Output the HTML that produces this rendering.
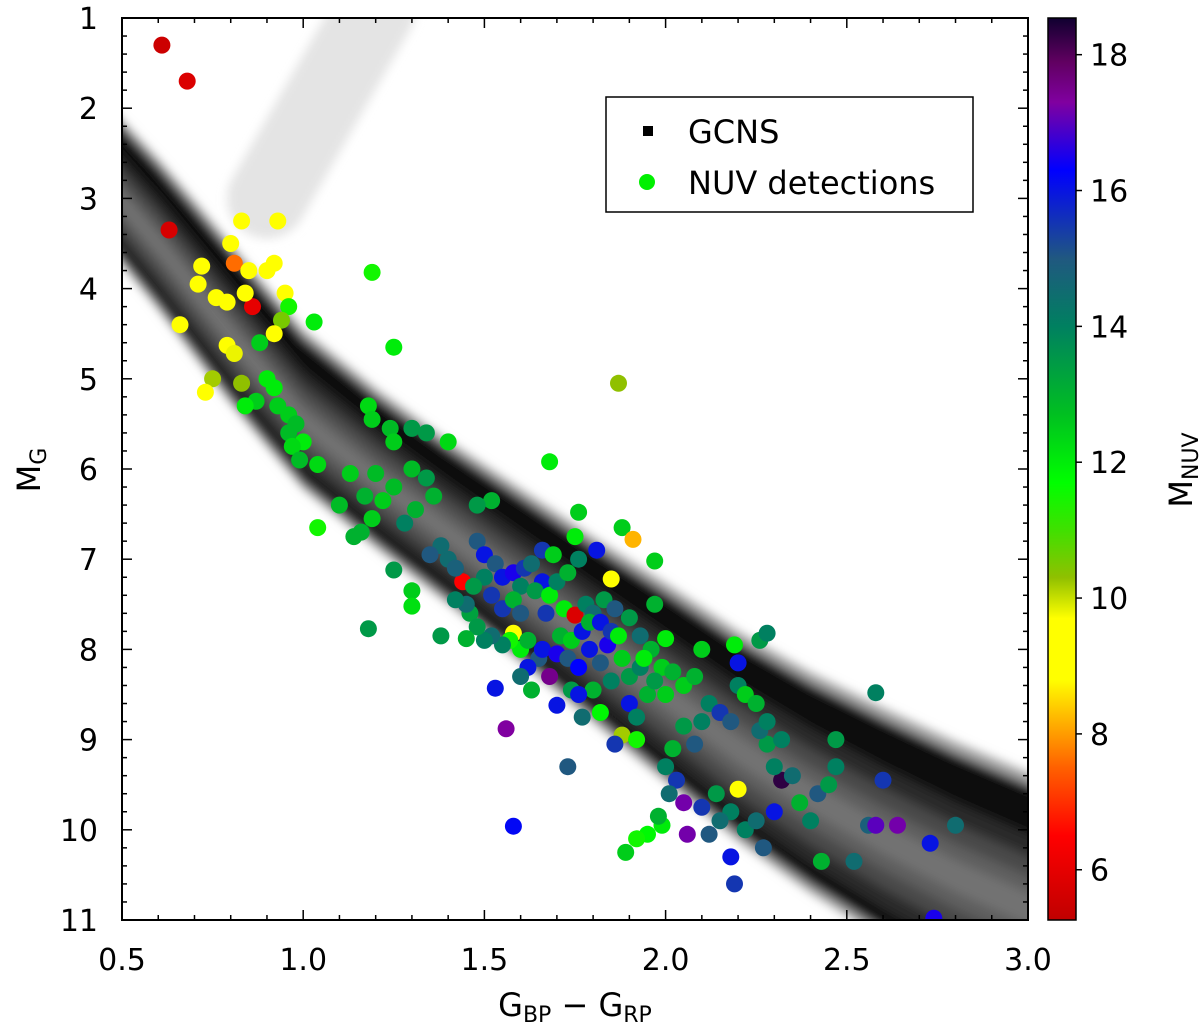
<!DOCTYPE html>
<html><head><meta charset="utf-8"><style>
html,body{margin:0;padding:0;background:#fff;}
svg{display:block;font-family:"DejaVu Sans","Liberation Sans",sans-serif;}
</style></head><body>
<svg id="chart" width="1200" height="1028" viewBox="0 0 1200 1028">
<defs>
<clipPath id="plotclip"><rect x="122" y="18" width="906" height="902"/></clipPath>
<linearGradient id="cbgrad" x1="0" y1="1" x2="0" y2="0" gradientUnits="objectBoundingBox"></linearGradient>
<filter id="blur" x="-10%" y="-10%" width="120%" height="120%"><feGaussianBlur stdDeviation="5"/></filter>
</defs>
<g clip-path="url(#plotclip)"><g id="bg" filter="url(#blur)"></g></g>
<g id="pts" clip-path="url(#plotclip)"></g>
<rect x="122" y="18" width="906" height="902" fill="none" stroke="#000" stroke-width="2"/>
<g id="axes"></g>
<g>
<rect x="606" y="97" width="367" height="115" fill="#fff" stroke="#000" stroke-width="1.5"/>
<rect x="643" y="126" width="10" height="10" fill="#000"/>
<text x="688" y="143" font-size="32">GCNS</text>
<circle cx="647" cy="182" r="8" fill="#00f000"/>
<text x="688" y="194" font-size="32">NUV detections</text>
</g>
<rect id="cbar" x="1048" y="18" width="28" height="902" stroke="#000" stroke-width="1.5" fill="url(#cbgrad)"/>
<g id="cbticks"></g>
<text x="575" y="1016" font-size="32" text-anchor="middle">G<tspan font-size="22" dy="6">BP</tspan><tspan dy="-6"> − G</tspan><tspan font-size="22" dy="6">RP</tspan></text>
<text transform="translate(40,470) rotate(-90)" font-size="32" text-anchor="middle">M<tspan font-size="22" dy="6">G</tspan></text>
<text transform="translate(1192,470) rotate(-90)" font-size="32" text-anchor="middle">M<tspan font-size="22" dy="6">NUV</tspan></text>
</svg>
<script>
const xTicks=[0.5,1.0,1.5,2.0,2.5,3.0];
const xTickLabels=["0.5","1.0","1.5","2.0","2.5","3.0"];
const yTicks=[1,2,3,4,5,6,7,8,9,10,11];
const cbTicks=[6,8,10,12,14,16,18];
const seqColor=[0.45,0.6,0.7,0.8,0.9,1.0,1.2,1.4,1.6,1.8,2.0,2.2,2.4,2.6,2.8,3.05];
const seqMag=[2.8,3.5,4.0,4.5,4.98,5.45,6.1,6.7,7.3,7.9,8.5,9.1,9.62,10.08,10.5,10.95];
const seqHalfUp=[0.8,0.85,0.88,0.9,0.9,0.9,0.9,0.92,0.98,1.04,1.12,1.18,1.24,1.3,1.34,1.36];
const seqHalfLo=[0.62,0.66,0.68,0.7,0.7,0.7,0.7,0.72,0.76,0.82,0.88,0.93,0.98,1.02,1.05,1.08];
const giantColor=[0.9,1.0,1.1,1.2];
const giantMag=[3.0,2.3,1.6,0.9];
const nuvColor=[0.61,0.68,0.63,0.83,0.93,0.80,0.72,0.81,0.85,0.90,0.92,0.71,0.76,0.79,0.86,0.84,0.95,0.96,0.66,0.94,0.92,1.03,1.19,1.25,0.79,0.81,0.88,0.75,0.73,0.83,0.90,0.92,0.87,0.84,0.93,0.96,0.98,0.96,1.0,0.97,0.99,1.04,1.04,1.18,1.19,1.24,1.30,1.34,1.40,1.25,1.20,1.13,1.10,1.17,1.22,1.19,1.14,1.16,1.25,1.30,1.34,1.36,1.31,1.28,1.87,1.68,1.52,1.48,1.76,1.75,1.88,1.91,1.81,1.85,1.97,1.25,1.30,1.30,1.18,1.38,1.44,1.46,1.50,1.45,1.40,1.42,1.38,1.35,1.48,1.50,1.53,1.55,1.58,1.61,1.63,1.60,1.66,1.52,1.55,1.58,1.60,1.64,1.68,1.70,1.73,1.76,1.66,1.69,1.67,1.72,1.75,1.78,1.80,1.83,1.86,1.90,1.93,1.96,2.00,1.97,1.99,2.02,2.05,2.08,2.10,2.12,2.15,2.18,2.20,2.22,2.25,2.19,2.20,2.26,2.28,2.10,2.05,2.08,2.02,2.00,2.03,2.01,2.05,2.10,2.14,2.18,2.20,2.15,2.22,2.25,2.30,2.27,2.18,2.19,2.12,2.06,1.99,1.95,1.92,1.89,1.98,2.32,2.30,2.28,2.26,2.32,2.35,2.37,2.40,2.42,2.45,2.47,2.47,2.43,2.52,2.58,2.60,2.56,2.58,2.64,2.73,2.74,2.80,2.28,1.58,1.56,1.53,1.73,1.77,1.82,1.80,1.85,1.90,1.92,1.95,1.88,1.92,1.86,1.70,1.68,1.65,1.62,1.66,1.70,1.73,1.76,1.79,1.82,1.84,1.88,1.90,1.93,1.60,1.58,1.57,1.55,1.62,1.60,1.71,1.74,1.77,1.79,1.82,1.85,1.87,1.63,1.74,1.76,1.94,1.97,2.0,1.52,1.50,1.48,1.45,1.47,1.42];
const nuvMag=[1.3,1.7,3.35,3.25,3.25,3.5,3.75,3.72,3.8,3.8,3.72,3.95,4.1,4.15,4.2,4.05,4.05,4.2,4.4,4.35,4.5,4.37,3.82,4.65,4.63,4.72,4.6,5.0,5.15,5.05,5.0,5.1,5.25,5.3,5.3,5.4,5.5,5.6,5.7,5.75,5.9,5.95,6.65,5.3,5.45,5.55,5.55,5.6,5.7,5.7,6.05,6.05,6.4,6.3,6.35,6.55,6.75,6.7,6.2,6.0,6.1,6.3,6.45,6.6,5.05,5.92,6.35,6.4,6.48,6.75,6.65,6.78,6.9,7.22,7.02,7.12,7.35,7.52,7.77,7.85,7.25,7.6,7.2,7.5,7.0,7.1,6.85,6.95,6.8,6.95,7.05,7.2,7.15,7.1,7.05,7.3,7.25,7.4,7.55,7.45,7.6,7.35,7.4,7.25,7.15,7.0,6.9,6.95,7.6,7.55,7.62,7.5,7.6,7.45,7.55,7.65,7.85,8.0,7.88,7.5,8.2,8.25,8.4,8.3,8.0,8.6,8.7,8.8,8.4,8.5,8.6,7.95,8.15,7.9,7.82,8.8,8.85,9.05,9.1,9.3,9.45,9.6,9.7,9.75,9.6,9.8,9.55,9.9,10.0,9.9,9.8,10.2,10.3,10.6,10.05,10.05,9.95,10.05,10.1,10.25,9.85,9.45,9.3,9.05,8.9,9.0,9.4,9.7,9.9,9.6,9.5,9.3,9.0,10.35,10.35,8.48,9.45,9.95,9.95,9.95,10.15,10.98,9.95,8.8,9.96,8.88,8.43,9.3,8.75,8.7,8.45,8.35,8.6,8.75,8.5,8.95,9.0,9.05,8.62,8.3,8.1,8.2,8.0,8.05,8.1,8.2,8.0,8.15,7.95,8.1,8.3,8.2,8.0,7.82,7.9,7.95,7.9,8.3,7.85,7.9,7.8,7.7,7.7,7.8,7.85,8.45,8.45,8.5,8.1,8.35,8.5,7.85,7.9,7.75,7.88,7.3,7.45];
const nuvAbs=[5.5,5.8,5.7,9.2,9.2,9.1,9.0,7.6,9.1,9.2,9.2,9.1,9.2,9.0,6.0,9.2,9.3,11.5,9.2,10.5,9.5,12,11.5,12,9.3,9.8,12.5,10.2,9.3,10.3,12,12,12.5,12,12.5,12.5,12.8,12.8,12,12.3,12.8,12.3,11.5,12.3,12.5,12.8,13.5,13.5,12.3,12.5,12.8,12.5,12.8,13,12.5,12.5,13,13,12.8,12.8,13.5,13,13,14,10.3,12,13,13.5,12.5,12,12.5,8.2,16.0,9.5,12.5,13.5,12.5,12.2,13.5,13.5,6.5,13.3,14,14.5,14.5,14.8,14.5,15,15,16,15,16,16.5,15.5,14.5,14,16,15.5,15.5,13,15,13.5,12,14,13,14,15.5,12.5,15.5,12,5.8,14,14.5,13.5,15,13.5,14.5,13,12,13,12.5,13,12.5,13,12.5,14,15.5,15,14,12.5,13,12,16,13.5,14,14,13.5,15,13,14,15.5,14.5,17.2,15.5,13.5,14,8.8,14.5,14,14.5,16,15,16,15.5,15,17.2,12,11.8,11.5,12.5,13,18.3,14,13.5,14.5,14,14.5,13,14,15,13.5,14,13.5,13,14.5,14,15.5,14.8,17,17.2,16,16.5,14.5,14,16.2,17.3,16,15,14.5,11.8,13,14,16,14,13,10.2,11.5,15.5,16,17.5,15,16,16,16.5,15,16.3,16,15,16.5,12.5,13.5,14,12,9.5,11.5,14,13,14.5,13,12.5,16,13,16,15.5,12,13,13.5,16,12,13.5,12.5,14.5,14,13.5,13,13.5,14];
const cStops=[5.26,6.5,7.5,8.3,8.8,9.7,10.3,11,11.7,12.7,14,15,16.3,17.3,17.9,18.54];
const cCols=["#c00000","#ff0000","#ff6000","#ffc000","#ffff00","#ffff00","#90c000","#40e000","#00ff00","#00c020","#008060","#205880","#0000ff","#8000a0","#600060","#100030"];

const NS="http://www.w3.org/2000/svg";
const X0=122,X1=1028,Y0=18,Y1=920;
const xs=v=>X0+(v-0.5)/2.5*(X1-X0);
const ys=v=>Y0+(v-1)/10*(Y1-Y0);
const cMin=5.26,cMax=18.54;
const cs=v=>Y1-(v-cMin)/(cMax-cMin)*(Y1-Y0);
function hex(h){return [1,3,5].map(i=>parseInt(h.substr(i,2),16));}
function cmap(v){
  if(v<=cStops[0])return cCols[0];
  for(let i=1;i<cStops.length;i++){if(v<=cStops[i]){const t=(v-cStops[i-1])/(cStops[i]-cStops[i-1]);const a=hex(cCols[i-1]),b=hex(cCols[i]);return "rgb("+a.map((c,k)=>Math.round(c+(b[k]-c)*t)).join(",")+")";}}
  return cCols[cCols.length-1];
}
function mk(tag,attrs,parent){const e=document.createElementNS(NS,tag);for(const k in attrs)e.setAttribute(k,attrs[k]);parent.appendChild(e);return e;}

const bg=document.getElementById('bg');
const gD=giantColor.map((c,i)=>(i?"L":"M")+xs(c).toFixed(1)+","+ys(giantMag[i]).toFixed(1)).join(" ");
const gp=mk('path',{d:gD,fill:"none",stroke:"#e4e4e4","stroke-width":80,"stroke-linecap":"round"},bg);


function bandPath(fu,fl){
  const up=seqColor.map((c,i)=>xs(c).toFixed(1)+","+ys(seqMag[i]-seqHalfUp[i]*fu).toFixed(1));
  const lo=seqColor.map((c,i)=>xs(c).toFixed(1)+","+ys(seqMag[i]+seqHalfLo[i]*fl).toFixed(1)).reverse();
  return "M"+up.join(" L")+" L"+lo.join(" L")+" Z";
}
const layers=[[1.1,1.1,"#a0a0a0"],[1.0,1.0,"#0a0a0a"],[0.6,0.78,"#2c2c2c"],[0.42,0.56,"#484848"],[0.26,0.36,"#5e5e5e"],[0.12,0.18,"#727272"]];
layers.forEach(L=>{
  const p=mk('path',{d:bandPath(L[0],L[1]),fill:L[2],stroke:"none"},bg);
  
  
});

const pts=document.getElementById('pts');
nuvColor.forEach((c,i)=>{
  const e=mk('circle',{cx:xs(c).toFixed(1),cy:ys(nuvMag[i]).toFixed(1),r:8.5,fill:cmap(nuvAbs[i])},pts);
  
  
});

const ax=document.getElementById('axes');
for(let v=0.5;v<=3.001;v+=0.1){
  const x=xs(v),maj=Math.abs(v*2-Math.round(v*2))<0.01,L=maj?10:5;
  mk('line',{x1:x,y1:Y1,x2:x,y2:Y1-L,stroke:"#000","stroke-width":1.5},ax);
  mk('line',{x1:x,y1:Y0,x2:x,y2:Y0+L,stroke:"#000","stroke-width":1.5},ax);
}
xTicks.forEach((v,i)=>{
  const t=mk('text',{x:xs(v),y:970,"font-size":30,"text-anchor":"middle"},ax);
  t.textContent=xTickLabels[i];
  
  
});
for(let v=1;v<=11.001;v+=0.2){
  const y=ys(v),maj=Math.abs(v-Math.round(v))<0.01,L=maj?10:5;
  mk('line',{x1:X0,y1:y,x2:X0+L,y2:y,stroke:"#000","stroke-width":1.5},ax);
  mk('line',{x1:X1,y1:y,x2:X1-L,y2:y,stroke:"#000","stroke-width":1.5},ax);
}
yTicks.forEach(v=>{
  const t=mk('text',{x:98,y:ys(v)+11,"font-size":30,"text-anchor":"end"},ax);
  t.textContent=String(v);
  
  
});
const grad=document.getElementById('cbgrad');
cStops.forEach((s,i)=>{mk('stop',{offset:((s-cMin)/(cMax-cMin)).toFixed(4),"stop-color":cCols[i]},grad);});
const cb=document.getElementById('cbticks');
cbTicks.forEach(v=>{
  const y=cs(v);
  mk('line',{x1:1076,y1:y,x2:1082,y2:y,stroke:"#000","stroke-width":1.5},cb);
  const t=mk('text',{x:1090,y:y+11,"font-size":30},cb);
  t.textContent=String(v);
  
  
});
</script>
</body></html>
